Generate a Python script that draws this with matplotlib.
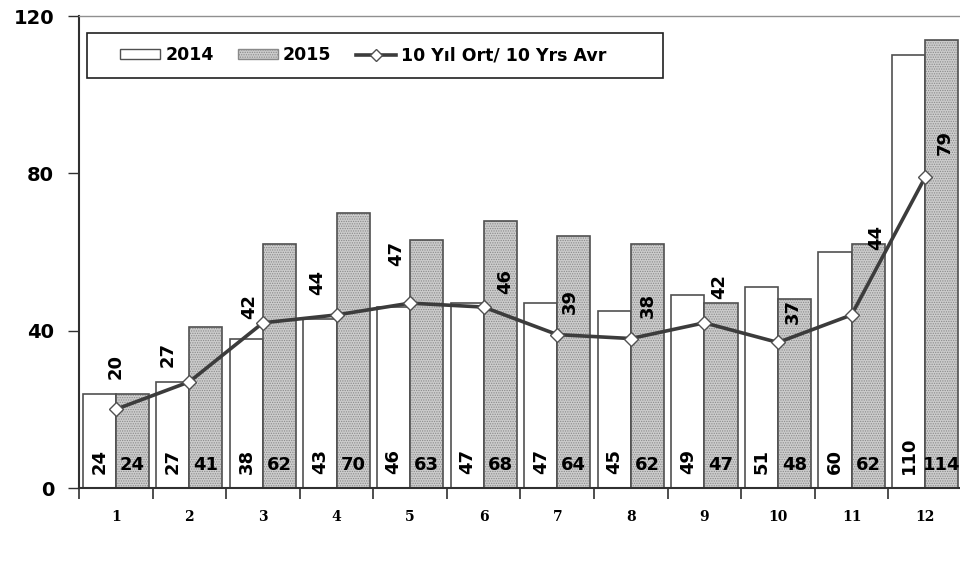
import numpy as np
import matplotlib.pyplot as plt
from matplotlib.patches import Patch, Rectangle
from matplotlib.lines import Line2D

# data
months = [1, 2, 3, 4, 5, 6, 7, 8, 9, 10, 11, 12]
vals_2014 = [24, 27, 38, 43, 46, 47, 47, 45, 49, 51, 60, 110]
vals_2015 = [24, 41, 62, 70, 63, 68, 64, 62, 47, 48, 62, 114]
avg_10y = [20, 27, 42, 44, 47, 46, 39, 38, 42, 37, 44, 79]

# hand placed label offsets for the average line (pixels)
avg_label_dx = [0, -22, -14, -19, -14, 22, 13, 17, 15, 15, 25, 20]
avg_label_dy = [43, 27, 16, 32, 50, 26, 33, 33, 36, 31, 77, 35]

plt.rcParams['hatch.linewidth'] = 0.6

fig = plt.figure(figsize=(9.6, 5.62), dpi=100)
ax = fig.add_axes([79 / 960, 1 - 488 / 562, 1 - 79 / 960 + 0.002, (488 - 16) / 562])

x = np.arange(len(months)) + 1
w = 0.45
edge = '#505050'
fill15 = '#cccccc'

ax.bar(x - w / 2, vals_2014, w, color='white', edgecolor=edge, linewidth=1.2, zorder=2)
ax.bar(x + w / 2, vals_2015, w, color=fill15, edgecolor='#8a8a8a', hatch='.......',
       linewidth=0, zorder=2)
ax.bar(x + w / 2, vals_2015, w, color='none', edgecolor=edge, linewidth=1.2, zorder=2)

ax.plot(x, avg_10y, color='#3c3c3c', linewidth=2.6, marker='D', markersize=7,
        markerfacecolor='white', markeredgecolor='#505050', markeredgewidth=1, zorder=4)

lab_font = dict(fontsize=13, fontweight='bold', color='black', family='DejaVu Sans')
for i in range(len(months)):
    ax.annotate(str(vals_2014[i]), (x[i] - w / 2, 0), xytext=(0, 14), textcoords='offset pixels',
                rotation=90, ha='center', va='bottom', zorder=5, **lab_font)
    ax.annotate(str(vals_2015[i]), (x[i] + w / 2, 0), xytext=(0, 14), textcoords='offset pixels',
                ha='center', va='bottom', zorder=5, **lab_font)
    ax.annotate(str(avg_10y[i]), (x[i], avg_10y[i]),
                xytext=(avg_label_dx[i], avg_label_dy[i]), textcoords='offset pixels',
                rotation=90, ha='center', va='center', zorder=5, **lab_font)

ax.set_xlim(0.5, 12.5)
ax.set_ylim(0, 120)
ax.set_yticks([0, 40, 80, 120])
ax.set_xticks(x)
ax.set_xticklabels([str(m) for m in months], fontsize=10, fontweight='bold', family='DejaVu Serif')
ax.set_xticks(np.arange(0.5, 12.6, 1), minor=True)
ax.tick_params(axis='x', which='major', length=0, pad=16)
ax.tick_params(axis='x', which='minor', length=8, width=1.2, color='#303030', direction='out')
ax.tick_params(axis='y', length=8, width=1, color='#303030', direction='out', pad=10)
for t in ax.get_yticklabels():
    t.set_fontsize(14)
    t.set_fontweight('bold')

ax.spines['left'].set_color('#303030')
ax.spines['left'].set_linewidth(1.5)
ax.spines['bottom'].set_color('#303030')
ax.spines['bottom'].set_linewidth(1.5)
ax.spines['top'].set_color('#909090')
ax.spines['top'].set_linewidth(1)
ax.spines['right'].set_visible(False)

# legend box
fig.patches.append(Rectangle((87 / 960, 1 - 78 / 562), (663 - 87) / 960, 45 / 562,
                             transform=fig.transFigure, facecolor='white',
                             edgecolor='#202020', linewidth=1.2, zorder=10))
handles = [
    Patch(facecolor='white', edgecolor=edge, linewidth=1),
    Patch(facecolor=fill15, edgecolor='#8a8a8a', hatch='.......', linewidth=1),
    Line2D([0], [0], color='#3c3c3c', linewidth=2.6, marker='D', markersize=6,
           markerfacecolor='white', markeredgecolor='#505050'),
]
leg = fig.legend(handles, ['2014', '2015', '10 Yıl Ort/ 10 Yrs Avr'], ncol=3,
                 loc='center left', bbox_to_anchor=(120 / 960, 1 - 55.5 / 562),
                 frameon=False, prop=dict(size=12.5, weight='bold'),
                 handlelength=2.3, handleheight=0.5, handletextpad=0.3,
                 borderpad=0, borderaxespad=0, columnspacing=1.4)
leg.set_zorder(11)

fig.savefig('out.png', dpi=100)
